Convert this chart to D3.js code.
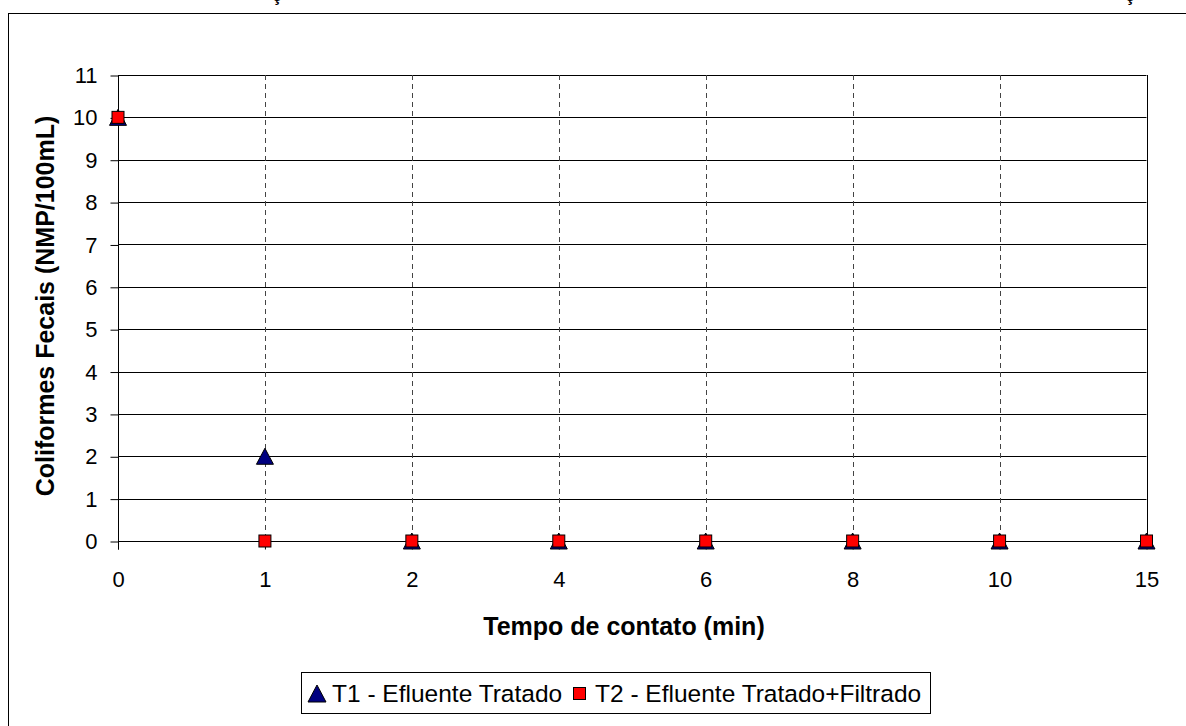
<!DOCTYPE html>
<html>
<head>
<meta charset="utf-8">
<script src="https://cdn.jsdelivr.net/npm/d3@7"></script>
<style>
  body { margin: 0; background: #fff; }
  svg { display: block; font-family: Arial, "Liberation Sans", sans-serif; }
</style>
</head>
<body>
<svg width="1186" height="726"></svg>
<script>
// categories on the x axis (minutes)
var tempos = ["0", "1", "2", "4", "6", "8", "10", "15"];
// series values
var t1 = [10, 2, 0, 0, 0, 0, 0, 0];
var t2 = [10, 0, 0, 0, 0, 0, 0, 0];
var yTicks = [0, 1, 2, 3, 4, 5, 6, 7, 8, 9, 10, 11];
var serieNomes = ["T1 - Efluente Tratado", "T2 - Efluente Tratado+Filtrado"];

var svg = d3.select("svg"),
    width = +svg.attr("width"),
    height = +svg.attr("height");

// plot area edges (not named top/left: those clash with window globals)
var plotL = 118, plotR = 1146.5, plotT = 75, plotB = 541;
var fonte = "Arial, 'Liberation Sans', sans-serif";

var x = d3.scalePoint().domain(tempos).range([plotL, plotR]);
var y = d3.scaleLinear().domain([0, 11]).range([plotB, plotT]);

// chart area frame (runs off the right and bottom of the picture)
svg.append("rect")
    .attr("x", 8.5).attr("y", 13.5)
    .attr("width", 1200).attr("height", 800)
    .attr("fill", "#fff").attr("stroke", "#000").attr("stroke-width", 1);

// cut-off title cedillas above the frame
svg.append("text").attr("x", 272).attr("y", 0.5)
    .attr("font-size", 18).attr("font-weight", "bold").text("ç");
svg.append("text").attr("x", 1125).attr("y", 0.5)
    .attr("font-size", 18).attr("font-weight", "bold").text("ç");

// horizontal gridlines
svg.append("g")
  .selectAll("line")
  .data(yTicks.filter(function(d) { return d > 0; }))
  .enter().append("line")
    .attr("x1", plotL).attr("x2", plotR)
    .attr("y1", function(d) { return Math.round(y(d)) + 0.5; })
    .attr("y2", function(d) { return Math.round(y(d)) + 0.5; })
    .attr("stroke", "#000").attr("stroke-width", 1);

// vertical dashed gridlines
svg.append("g")
  .selectAll("line")
  .data(tempos.slice(1, tempos.length - 1))
  .enter().append("line")
    .attr("x1", function(d) { return Math.round(x(d)) + 0.5; })
    .attr("x2", function(d) { return Math.round(x(d)) + 0.5; })
    .attr("y1", plotT).attr("y2", plotB)
    .attr("stroke", "#444").attr("stroke-width", 1)
    .attr("stroke-dasharray", "5,4");

// right border
svg.append("line")
    .attr("x1", Math.round(plotR) + 0.5).attr("x2", Math.round(plotR) + 0.5)
    .attr("y1", plotT).attr("y2", plotB)
    .attr("stroke", "#000");

// y axis
var yAxis = svg.append("g")
    .attr("transform", "translate(" + (plotL + 0.5) + ",0.5)")
    .call(d3.axisLeft(y).tickValues(yTicks).tickSize(8).tickPadding(13));
yAxis.select(".domain").attr("stroke", "#000").attr("d", "M0," + plotT + "V" + (plotB + 8));
yAxis.selectAll(".tick line").attr("stroke", "#000");
yAxis.selectAll("text").attr("font-size", 22).attr("font-family", fonte).attr("fill", "#000");

// x axis
var xAxis = svg.append("g")
    .attr("transform", "translate(0," + (Math.round(plotB) + 0.5) + ")")
    .call(d3.axisBottom(x).tickSize(8).tickPadding(22));
xAxis.select(".domain").attr("stroke", "#000").attr("d", "M" + plotL + ",0H" + plotR);
xAxis.selectAll(".tick line").attr("stroke", "#000");
xAxis.selectAll("text").attr("font-size", 22).attr("font-family", fonte).attr("fill", "#000");

// axis titles
svg.append("text")
    .attr("x", 624).attr("y", 635)
    .attr("text-anchor", "middle")
    .attr("font-size", 25).attr("font-weight", "bold")
    .text("Tempo de contato (min)");

svg.append("text")
    .attr("transform", "translate(54,306) rotate(-90)")
    .attr("text-anchor", "middle")
    .attr("font-size", 25).attr("font-weight", "bold")
    .text("Coliformes Fecais (NMP/100mL)");

// T1 markers
svg.append("g")
  .selectAll("path")
  .data(t1)
  .enter().append("path")
    .attr("d", "M0,-8L8.5,8L-8.5,8Z")
    .attr("transform", function(d, i) { return "translate(" + x(tempos[i]) + "," + y(d) + ")"; })
    .attr("fill", "#000080").attr("stroke", "#000").attr("stroke-width", 1);

// T2 markers
svg.append("g")
  .selectAll("rect")
  .data(t2)
  .enter().append("rect")
    .attr("x", function(d, i) { return x(tempos[i]) - 6; })
    .attr("y", function(d) { return y(d) - 6; })
    .attr("width", 12).attr("height", 12)
    .attr("fill", "#ff0000").attr("stroke", "#000").attr("stroke-width", 1);

// legend
var legend = svg.append("g").attr("id", "legend");
legend.append("rect")
    .attr("x", 301.5).attr("y", 672.5)
    .attr("width", 629).attr("height", 41)
    .attr("fill", "#fff").attr("stroke", "#000");

legend.append("path")
    .attr("d", "M0,-8.5L9,8.5L-9,8.5Z")
    .attr("transform", "translate(317,693.5)")
    .attr("fill", "#000080").attr("stroke", "#000");
legend.append("text")
    .attr("x", 332).attr("y", 701.5)
    .attr("font-size", 24.5)
    .text(serieNomes[0]);

legend.append("rect")
    .attr("x", 573.5).attr("y", 687.5)
    .attr("width", 12).attr("height", 12)
    .attr("fill", "#ff0000").attr("stroke", "#000");
legend.append("text")
    .attr("x", 595).attr("y", 701.5)
    .attr("font-size", 24.5)
    .text(serieNomes[1]);
</script>
</body>
</html>
